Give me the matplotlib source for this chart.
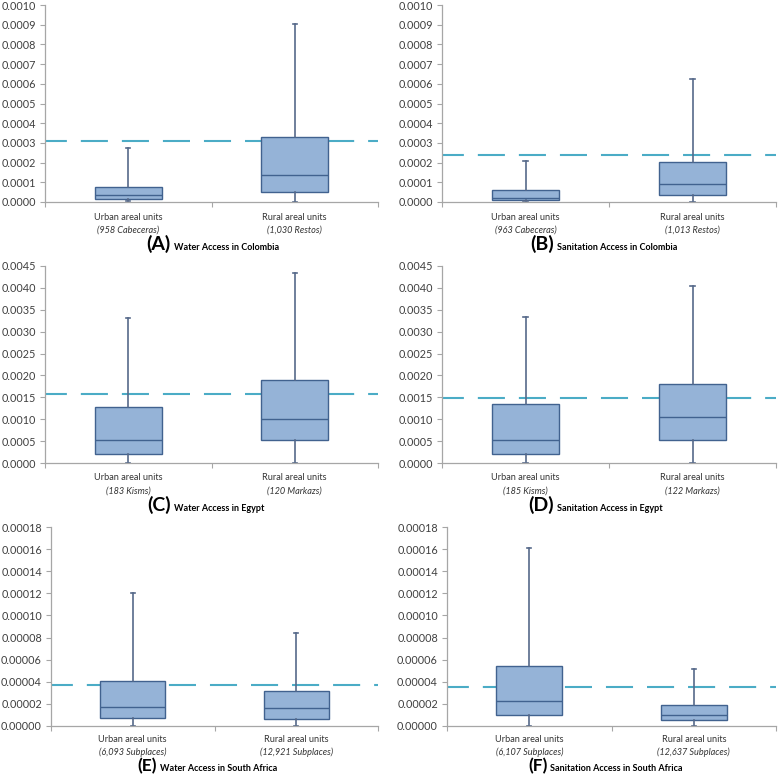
import matplotlib
matplotlib.use("Agg")
import matplotlib.pyplot as plt
from matplotlib.ticker import MultipleLocator, FormatStrFormatter

plt.rcParams['font.family'] = ['Lato', 'DejaVu Sans']

# panel labels and captions
letters = ['A', 'B', 'C', 'D', 'E', 'F']
titles = ['Water Access in Colombia', 'Sanitation Access in Colombia',
          'Water Access in Egypt', 'Sanitation Access in Egypt',
          'Water Access in South Africa', 'Sanitation Access in South Africa']
categories = ['Urban areal units', 'Rural areal units']
urban_units = ['958 Cabeceras', '963 Cabeceras', '183 Kisms', '185 Kisms',
               '6,093 Subplaces', '6,107 Subplaces']
rural_units = ['1,030 Restos', '1,013 Restos', '120 Markazs', '122 Markazs',
               '12,921 Subplaces', '12,637 Subplaces']

# five-number summaries: [low whisker, q1, median, q3, high whisker]
urban_stats = [
    [0.000005, 0.000015, 0.000035, 0.000075, 0.000275],
    [0.000003, 0.000010, 0.000020, 0.000060, 0.000210],
    [0.0, 0.00020, 0.00053, 0.00128, 0.00331],
    [0.0, 0.00020, 0.00052, 0.00135, 0.00334],
    [0.0, 0.0000072, 0.0000175, 0.0000405, 0.000120],
    [0.0, 0.0000095, 0.0000225, 0.0000540, 0.000161],
]
rural_stats = [
    [0.0, 0.000050, 0.000135, 0.000330, 0.000903],
    [0.0, 0.000035, 0.000090, 0.000205, 0.000625],
    [0.00001, 0.00053, 0.00101, 0.00190, 0.00435],
    [0.0, 0.00053, 0.00105, 0.00180, 0.00405],
    [0.0, 0.0000065, 0.0000163, 0.0000315, 0.0000845],
    [0.0, 0.0000055, 0.0000100, 0.0000188, 0.0000520],
]
# national reference (dashed line)
national_rate = [0.000312, 0.000240, 0.00157, 0.00148, 0.0000375, 0.0000355]

y_max = [0.0010, 0.0010, 0.0045, 0.0045, 0.00018, 0.00018]
y_step = [0.0001, 0.0001, 0.0005, 0.0005, 0.00002, 0.00002]
y_fmt = ['%.4f', '%.4f', '%.4f', '%.4f', '%.5f', '%.5f']

W, H = 778, 776
# axes boxes in pixels: left, top, right, bottom
boxes_px = [(45, 5, 378, 202), (442, 5, 776, 202),
            (45, 266, 378, 463), (442, 266, 776, 463),
            (51, 527, 378, 726), (447, 527, 776, 726)]
title_split = [-41, -55, -41, -55, -58, -64]
title_drop = [-48, -48, -48, -48, -45, -45]
letter_size = [14, 14, 14, 14, 12.5, 12.5]
label_drop = [(-15, -28)] * 4 + [(-13, -26)] * 2

BOX_FILL = '#95B3D7'
BOX_EDGE = '#41628F'
WHISK = '#56698A'
REF = '#4BACC6'
SPINE = '#A6A6A6'


def to_stats(v, label):
    return dict(whislo=v[0], q1=v[1], med=v[2], q3=v[3], whishi=v[4], label=label)


fig = plt.figure(figsize=(W / 100, H / 100), dpi=100)

for i in range(6):
    l, t, r, b = boxes_px[i]
    ax = fig.add_axes([l / W, 1 - b / H, (r - l) / W, (b - t) / H])

    ax.axhline(national_rate[i], color=REF, lw=1.5, ls=(2.5, (13, 6.7)), zorder=1)

    stats = [to_stats(urban_stats[i], categories[0]), to_stats(rural_stats[i], categories[1])]
    ax.bxp(stats, positions=[0, 1], widths=0.4, patch_artist=True, showfliers=False,
           capwidths=0.025,
           boxprops=dict(facecolor=BOX_FILL, edgecolor=BOX_EDGE, linewidth=1.0),
           medianprops=dict(color=BOX_EDGE, linewidth=1.0),
           whiskerprops=dict(color=WHISK, linewidth=1.2),
           capprops=dict(color=WHISK, linewidth=1.2))

    ax.set_xlim(-0.5, 1.5)
    ax.set_ylim(0, y_max[i])
    ax.yaxis.set_major_locator(MultipleLocator(y_step[i]))
    ax.yaxis.set_major_formatter(FormatStrFormatter(y_fmt[i]))
    ax.set_xticks([-0.5, 0.5, 1.5])
    ax.set_xticklabels([])

    for side in ['top', 'right']:
        ax.spines[side].set_visible(False)
    for side in ['left', 'bottom']:
        ax.spines[side].set_color(SPINE)
        ax.spines[side].set_linewidth(0.9)
    ax.tick_params(axis='both', direction='out', length=3.5, width=0.8, color=SPINE)
    ax.tick_params(axis='y', labelsize=7.8, labelcolor='#404040', pad=3)

    units = [urban_units[i], rural_units[i]]
    d1, d2 = label_drop[i]
    for k in range(2):
        ax.annotate(categories[k], xy=(k, 0), xycoords=('data', 'axes fraction'),
                    xytext=(0, d1), textcoords='offset pixels',
                    ha='center', va='center', fontsize=6.6, color='#333333')
        ax.annotate('(' + units[k] + ')', xy=(k, 0), xycoords=('data', 'axes fraction'),
                    xytext=(0, d2), textcoords='offset pixels',
                    ha='center', va='center', fontsize=6.6, style='italic', color='#333333')

    off = title_split[i]
    drop = title_drop[i]
    ax.annotate('(' + letters[i] + ')', xy=(0.5, 0), xycoords='axes fraction',
                xytext=(off, drop), textcoords='offset pixels',
                ha='right', va='baseline', fontsize=letter_size[i], weight='bold', color='black')
    ax.annotate(titles[i], xy=(0.5, 0), xycoords='axes fraction',
                xytext=(off + 3, drop), textcoords='offset pixels',
                ha='left', va='baseline', fontsize=6.5, weight='bold', color='black')

fig.savefig('out.png', dpi=100)
